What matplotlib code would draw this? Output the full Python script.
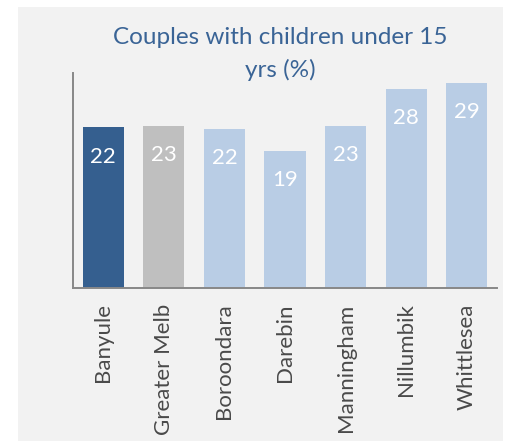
import matplotlib
matplotlib.use("Agg")
import matplotlib.pyplot as plt
from matplotlib.patches import Rectangle

# data
areas = ["Banyule", "Greater Melb", "Boroondara", "Darebin",
         "Manningham", "Nillumbik", "Whittlesea"]
pct = [22.4, 22.6, 22.2, 19.1, 22.6, 27.8, 28.6]
colours = ["#355F8F", "#BFBFBF", "#B9CDE5", "#B9CDE5",
           "#B9CDE5", "#B9CDE5", "#B9CDE5"]
title = "Couples with children under 15\nyrs (%)"

plt.rcParams['font.family'] = ['Lato', 'DejaVu Sans']

W, H = 511, 441
fig = plt.figure(figsize=(W / 100, H / 100), dpi=100)
fig.patch.set_facecolor("white")
# grey chart area
fig.patches.append(Rectangle((18 / W, 0), (503 - 18) / W, (441 - 7) / H,
                             transform=fig.transFigure, facecolor="#F2F2F2",
                             edgecolor="none", zorder=-1))

ax = fig.add_axes([73 / W, (H - 288) / H, (497 - 73) / W, (288 - 73) / H])
ax.set_facecolor("none")

x = range(len(areas))
bars = ax.bar(x, pct, width=0.68, color=colours, zorder=2)
for b, v in zip(bars, pct):
    ax.annotate("%.0f" % v, (b.get_x() + b.get_width() / 2, v),
                xytext=(0, -21), textcoords="offset points",
                ha="center", va="center", color="white", fontsize=16)

ax.set_ylim(0, 30)
ax.set_xlim(-0.5, len(areas) - 0.5)
ax.set_yticks([])
ax.set_xticks(list(x))
ax.set_xticklabels(areas, rotation=90, fontsize=16, color="#4A4A4A")
ax.tick_params(axis="x", length=0, pad=11)
for s in ["top", "right"]:
    ax.spines[s].set_visible(False)
for s in ["left", "bottom"]:
    ax.spines[s].set_color("#888888")
    ax.spines[s].set_linewidth(1.4)

fig.text(280 / W, 1 - 54 / H, title, ha="center", va="center",
         color="#3A6496", fontsize=17.5, linespacing=1.65)

fig.savefig("out.png", dpi=100)
